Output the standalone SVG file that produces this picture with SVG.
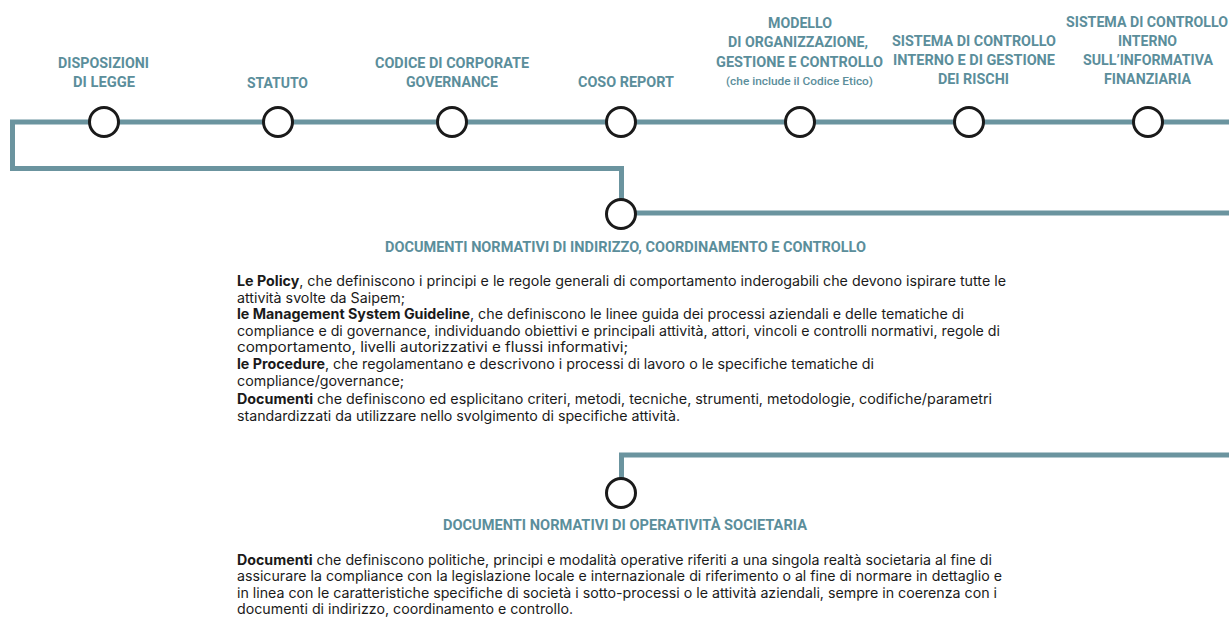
<svg xmlns="http://www.w3.org/2000/svg" width="1229" height="617" viewBox="0 0 1229 617">
<style>
.bg{fill:#ffffff}
.conn{fill:none;stroke:#6b949f;stroke-width:5;stroke-linejoin:miter}
.dot{fill:#ffffff;stroke:#1a1a1a;stroke-width:3}
.lbl{font-family:Roboto,"DejaVu Sans",sans-serif;font-weight:700;font-size:14px;fill:#5b8e9b}
.sub{font-family:Roboto,"DejaVu Sans",sans-serif;font-weight:500;font-size:10px;fill:#5b8e9b}
.body{font-family:Inter,"Liberation Sans",Arial,sans-serif;font-size:14px;fill:#1a1a1a}
.b{font-weight:700}
</style>
<rect class="bg" x="0" y="0" width="1229" height="617"/>
<g id="connectors">
<path class="conn" d="M1229 122 H12.5 V168.5 H621.5 V199"/>
<path class="conn" d="M636 213 H1229"/>
<path class="conn" d="M1229 455 H621.5 V478"/>
</g>
<g id="node-disposizioni">
<circle class="dot" cx="104" cy="122" r="14.5"/>
<text class="lbl" x="58" y="68" textLength="91" lengthAdjust="spacingAndGlyphs">DISPOSIZIONI</text>
<text class="lbl" x="73" y="87" textLength="62" lengthAdjust="spacingAndGlyphs">DI LEGGE</text>
</g>
<g id="node-statuto">
<circle class="dot" cx="278" cy="122" r="14.5"/>
<text class="lbl" x="247" y="88" textLength="61" lengthAdjust="spacingAndGlyphs">STATUTO</text>
</g>
<g id="node-codice">
<circle class="dot" cx="452" cy="122" r="14.5"/>
<text class="lbl" x="375" y="68" textLength="154" lengthAdjust="spacingAndGlyphs">CODICE DI CORPORATE</text>
<text class="lbl" x="406" y="87" textLength="92" lengthAdjust="spacingAndGlyphs">GOVERNANCE</text>
</g>
<g id="node-coso">
<circle class="dot" cx="621" cy="122" r="14.5"/>
<text class="lbl" x="578" y="87" textLength="96" lengthAdjust="spacingAndGlyphs">COSO REPORT</text>
</g>
<g id="node-modello">
<circle class="dot" cx="800" cy="122" r="14.5"/>
<text class="lbl" x="768" y="28" textLength="64" lengthAdjust="spacingAndGlyphs">MODELLO</text>
<text class="lbl" x="728" y="47" textLength="140" lengthAdjust="spacingAndGlyphs">DI ORGANIZZAZIONE,</text>
<text class="lbl" x="716" y="67" textLength="167" lengthAdjust="spacingAndGlyphs">GESTIONE E CONTROLLO</text>
<text class="sub" x="726" y="85" textLength="147" lengthAdjust="spacingAndGlyphs">(che include il Codice Etico)</text>
</g>
<g id="node-scigr">
<circle class="dot" cx="969" cy="122" r="14.5"/>
<text class="lbl" x="892" y="46" textLength="164" lengthAdjust="spacingAndGlyphs">SISTEMA DI CONTROLLO</text>
<text class="lbl" x="893" y="65" textLength="162" lengthAdjust="spacingAndGlyphs">INTERNO E DI GESTIONE</text>
<text class="lbl" x="938" y="84" textLength="71" lengthAdjust="spacingAndGlyphs">DEI RISCHI</text>
</g>
<g id="node-sciif">
<circle class="dot" cx="1148" cy="122" r="14.5"/>
<text class="lbl" x="1066" y="27" textLength="162" lengthAdjust="spacingAndGlyphs">SISTEMA DI CONTROLLO</text>
<text class="lbl" x="1118" y="46" textLength="59" lengthAdjust="spacingAndGlyphs">INTERNO</text>
<text class="lbl" x="1083" y="65" textLength="130" lengthAdjust="spacingAndGlyphs">SULL’INFORMATIVA</text>
<text class="lbl" x="1104" y="84" textLength="87" lengthAdjust="spacingAndGlyphs">FINANZIARIA</text>
</g>
<g id="node-indirizzo">
<circle class="dot" cx="621" cy="214" r="14.5"/>
<text class="lbl" x="385" y="252" textLength="481" lengthAdjust="spacingAndGlyphs">DOCUMENTI NORMATIVI DI INDIRIZZO, COORDINAMENTO E CONTROLLO</text>
<text class="body" x="237" y="286" textLength="769" lengthAdjust="spacingAndGlyphs"><tspan class="b">Le Policy</tspan>, che definiscono i principi e le regole generali di comportamento inderogabili che devono ispirare tutte le</text>
<text class="body" x="237" y="302.5" textLength="168" lengthAdjust="spacingAndGlyphs">attività svolte da Saipem;</text>
<text class="body" x="237" y="319" textLength="727" lengthAdjust="spacingAndGlyphs"><tspan class="b">le Management System Guideline</tspan>, che definiscono le linee guida dei processi aziendali e delle tematiche di</text>
<text class="body" x="237" y="335.5" textLength="763" lengthAdjust="spacingAndGlyphs">compliance e di governance, individuando obiettivi e principali attività, attori, vincoli e controlli normativi, regole di</text>
<text class="body" x="237" y="352" textLength="391" lengthAdjust="spacingAndGlyphs">comportamento, livelli autorizzativi e flussi informativi;</text>
<text class="body" x="237" y="369" textLength="637" lengthAdjust="spacingAndGlyphs"><tspan class="b">le Procedure</tspan>, che regolamentano e descrivono i processi di lavoro o le specifiche tematiche di</text>
<text class="body" x="237" y="386" textLength="167" lengthAdjust="spacingAndGlyphs">compliance/governance;</text>
<text class="body" x="237" y="404" textLength="755" lengthAdjust="spacingAndGlyphs"><tspan class="b">Documenti</tspan> che definiscono ed esplicitano criteri, metodi, tecniche, strumenti, metodologie, codifiche/parametri</text>
<text class="body" x="237" y="421" textLength="443" lengthAdjust="spacingAndGlyphs">standardizzati da utilizzare nello svolgimento di specifiche attività.</text>
</g>
<g id="node-operativita">
<circle class="dot" cx="621" cy="493" r="14.5"/>
<text class="lbl" x="443" y="530" textLength="364" lengthAdjust="spacingAndGlyphs">DOCUMENTI NORMATIVI DI OPERATIVITÀ SOCIETARIA</text>
<text class="body" x="237" y="564.5" textLength="755" lengthAdjust="spacingAndGlyphs"><tspan class="b">Documenti</tspan> che definiscono politiche, principi e modalità operative riferiti a una singola realtà societaria al fine di</text>
<text class="body" x="237" y="581" textLength="765" lengthAdjust="spacingAndGlyphs">assicurare la compliance con la legislazione locale e internazionale di riferimento o al fine di normare in dettaglio e</text>
<text class="body" x="237" y="597.5" textLength="760" lengthAdjust="spacingAndGlyphs">in linea con le caratteristiche specifiche di società i sotto-processi o le attività aziendali, sempre in coerenza con i</text>
<text class="body" x="237" y="614" textLength="336" lengthAdjust="spacingAndGlyphs">documenti di indirizzo, coordinamento e controllo.</text>
</g>
</svg>
